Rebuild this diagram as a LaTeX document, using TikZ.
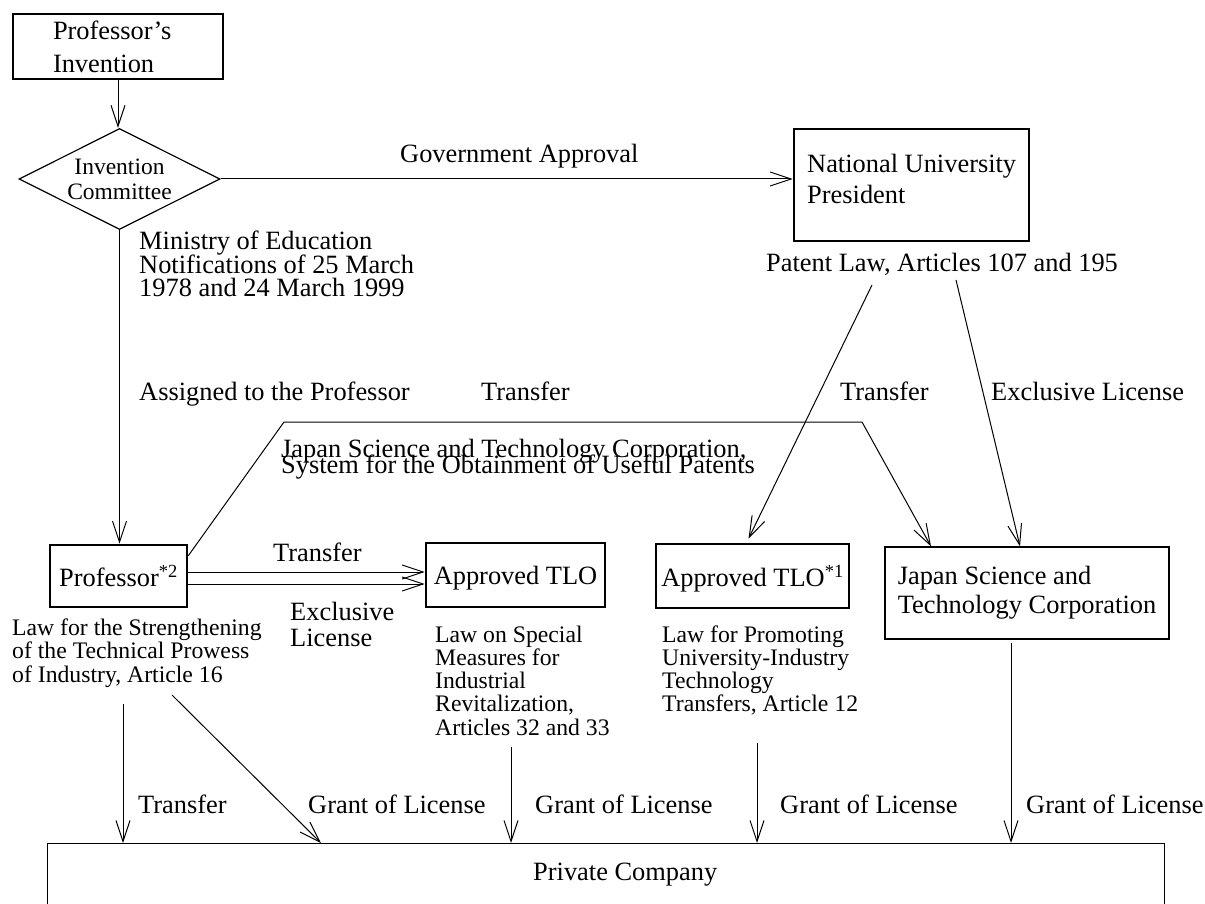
\documentclass[tikz,border=0pt]{standalone}
\usepackage{fontspec}
\setmainfont{Liberation Serif}
\usetikzlibrary{arrows.meta,shapes.geometric}
\newcommand\setlead[1]{\baselineskip=#1\relax\lineskiplimit=-1000pt\relax\lineskip=0pt\relax}
\newcommand\blk[2]{\vtop{\setlead{#1}#2}}
\tikzset{
  lab/.style={inner sep=0pt, anchor=base west, font=\fontsize{26.4}{26.4}\selectfont},
  lawlab/.style={lab, font=\fontsize{23.7}{23.5}\selectfont},
  tbox/.style={draw, line width=2.6pt, inner sep=0pt, font=\fontsize{26.4}{26.4}\selectfont},
  nbox/.style={draw, line width=1.2pt, inner sep=0pt, font=\fontsize{26.4}{26.4}\selectfont},
  arr/.style={line width=1pt, -{Straight Barb[length=21pt,width=14pt,line width=1pt]}},
}
\begin{document}
\begin{tikzpicture}[x=1pt,y=-1pt]
\useasboundingbox (0,0) rectangle (1205,904);
\clip (0,0) rectangle (1205,904);
\fill[white] (0,0) rectangle (1205,904);

% boxes
\node[nbox, minimum width=210pt, minimum height=65pt, text width=130pt, align=left,
      font=\fontsize{26.4}{33}\selectfont] (pi) at (118,46.5) {Professor’s\\Invention};
\node[diamond, draw, line width=1.2pt, aspect=2, inner sep=0pt,
      minimum width=201pt, minimum height=101pt, align=center,
      font=\fontsize{23.5}{25}\selectfont] (ic) at (119.5,179) {Invention\\Committee};
\node[tbox, minimum width=235pt, minimum height=112pt] (nup) at (911.5,185) {};
\node[lab] (nuptxt) at (807,173) {\blk{31pt}{\hbox{National University}\hbox{President}}};
\node[tbox, minimum width=137pt, minimum height=62pt] (prof) at (118.5,576) {Professor\textsuperscript{*2}};
\node[tbox, minimum width=179pt, minimum height=64pt, text depth=0pt] (tloa) at (515.5,575) {Approved TLO};
\node[tbox, minimum width=193pt, minimum height=64pt, text depth=0pt] (tlob) at (752.5,576) {Approved TLO\textsuperscript{*1}};
\node[nbox, minimum width=284pt, minimum height=92pt, align=left,
      font=\fontsize{26.4}{29}\selectfont] (jstc) at (1027,593) {Japan Science and\\Technology Corporation};
\node[nbox, minimum width=1117pt, minimum height=100pt, anchor=north west] (pc) at (47,843) {};
\node[lab] (pctxt) at (533,880) {Private Company};

% labels
\node[lab] (lgov) at (400,163) {Government Approval};
\node[lab] (lmin) at (139,250) {\blk{23.5pt}{\hbox{Ministry of Education}\hbox{Notifications of 25 March}\hbox{1978 and 24 March 1999}}};
\node[lab] (lpat) at (766,272) {Patent Law, Articles 107 and 195};
\node[lab] (lass) at (139,400) {Assigned to the Professor};
\node[lab] (ltr1) at (481,400) {Transfer};
\node[lab] (ltr2) at (840,400) {Transfer};
\node[lab] (lexc1) at (991,400) {Exclusive License};
\node[lab] (ljst) at (281,457) {\blk{16pt}{\hbox{Japan Science and Technology Corporation,}\hbox{System for the Obtainment of Useful Patents}}};
\node[lab] (ltr3) at (273,561) {Transfer};
\node[lab] (lexc2) at (290,620) {\blk{26pt}{\hbox{Exclusive}\hbox{License}}};
\node[lawlab] (llaw1) at (12,635) {\blk{23.5pt}{\hbox{Law for the Strengthening}\hbox{of the Technical Prowess}\hbox{of Industry, Article 16}}};
\node[lawlab] (llaw2) at (435,642) {\blk{23.25pt}{\hbox{Law on Special}\hbox{Measures for}\hbox{Industrial}\hbox{Revitalization,}\hbox{Articles 32 and 33}}};
\node[lawlab] (llaw3) at (662,642) {\blk{23.25pt}{\hbox{Law for Promoting}\hbox{University-Industry}\hbox{Technology}\hbox{Transfers, Article 12}}};
\node[lab] (ltr4) at (138,813) {Transfer};
\node[lab] (lg1) at (308,813) {Grant of License};
\node[lab] (lg2) at (535,813) {Grant of License};
\node[lab] (lg3) at (780,813) {Grant of License};
\node[lab] (lg4) at (1026,813) {Grant of License};

% coordinates
\coordinate (plA) at (872,285);
\coordinate (plB) at (956,280);
\coordinate (b1) at (284,422);
\coordinate (b2) at (862,422);
\coordinate (s1) at (123,704);
\coordinate (s2) at (172,695);
\coordinate (s3) at (511,747);
\coordinate (s4) at (757,743);
\coordinate (s5) at (1011,643);

% connectors
\draw[arr] (pi.south) -- (pi.south |- ic.north);
\draw[arr] (ic.east) -- (ic.east -| nup.west);
\draw[arr] (ic.south) -- (ic.south |- prof.north);
\draw[arr] (plA) -- ([xshift=-4pt,yshift=4pt]tlob.north);
\draw[arr] (plB) -- ([xshift=-7pt]jstc.north);
\draw[arr] ([yshift=-12pt]prof.north east) -- (b1) -- (b2) -- ([xshift=-96pt]jstc.north);
\draw[arr] ([yshift=4pt]prof.east) -- ([yshift=4pt]prof.east -| tloa.west);
\draw[arr] ([yshift=-8pt]prof.east) -- ([yshift=-8pt]prof.east -| tloa.west);
\draw[arr] (s1) -- (s1 |- pc.north);
\draw[arr] (s2) -- ([xshift=274pt]pc.north west);
\draw[arr] (s3) -- (s3 |- pc.north);
\draw[arr] (s4) -- (s4 |- pc.north);
\draw[arr] (s5) -- (s5 |- pc.north);
\end{tikzpicture}
\end{document}
